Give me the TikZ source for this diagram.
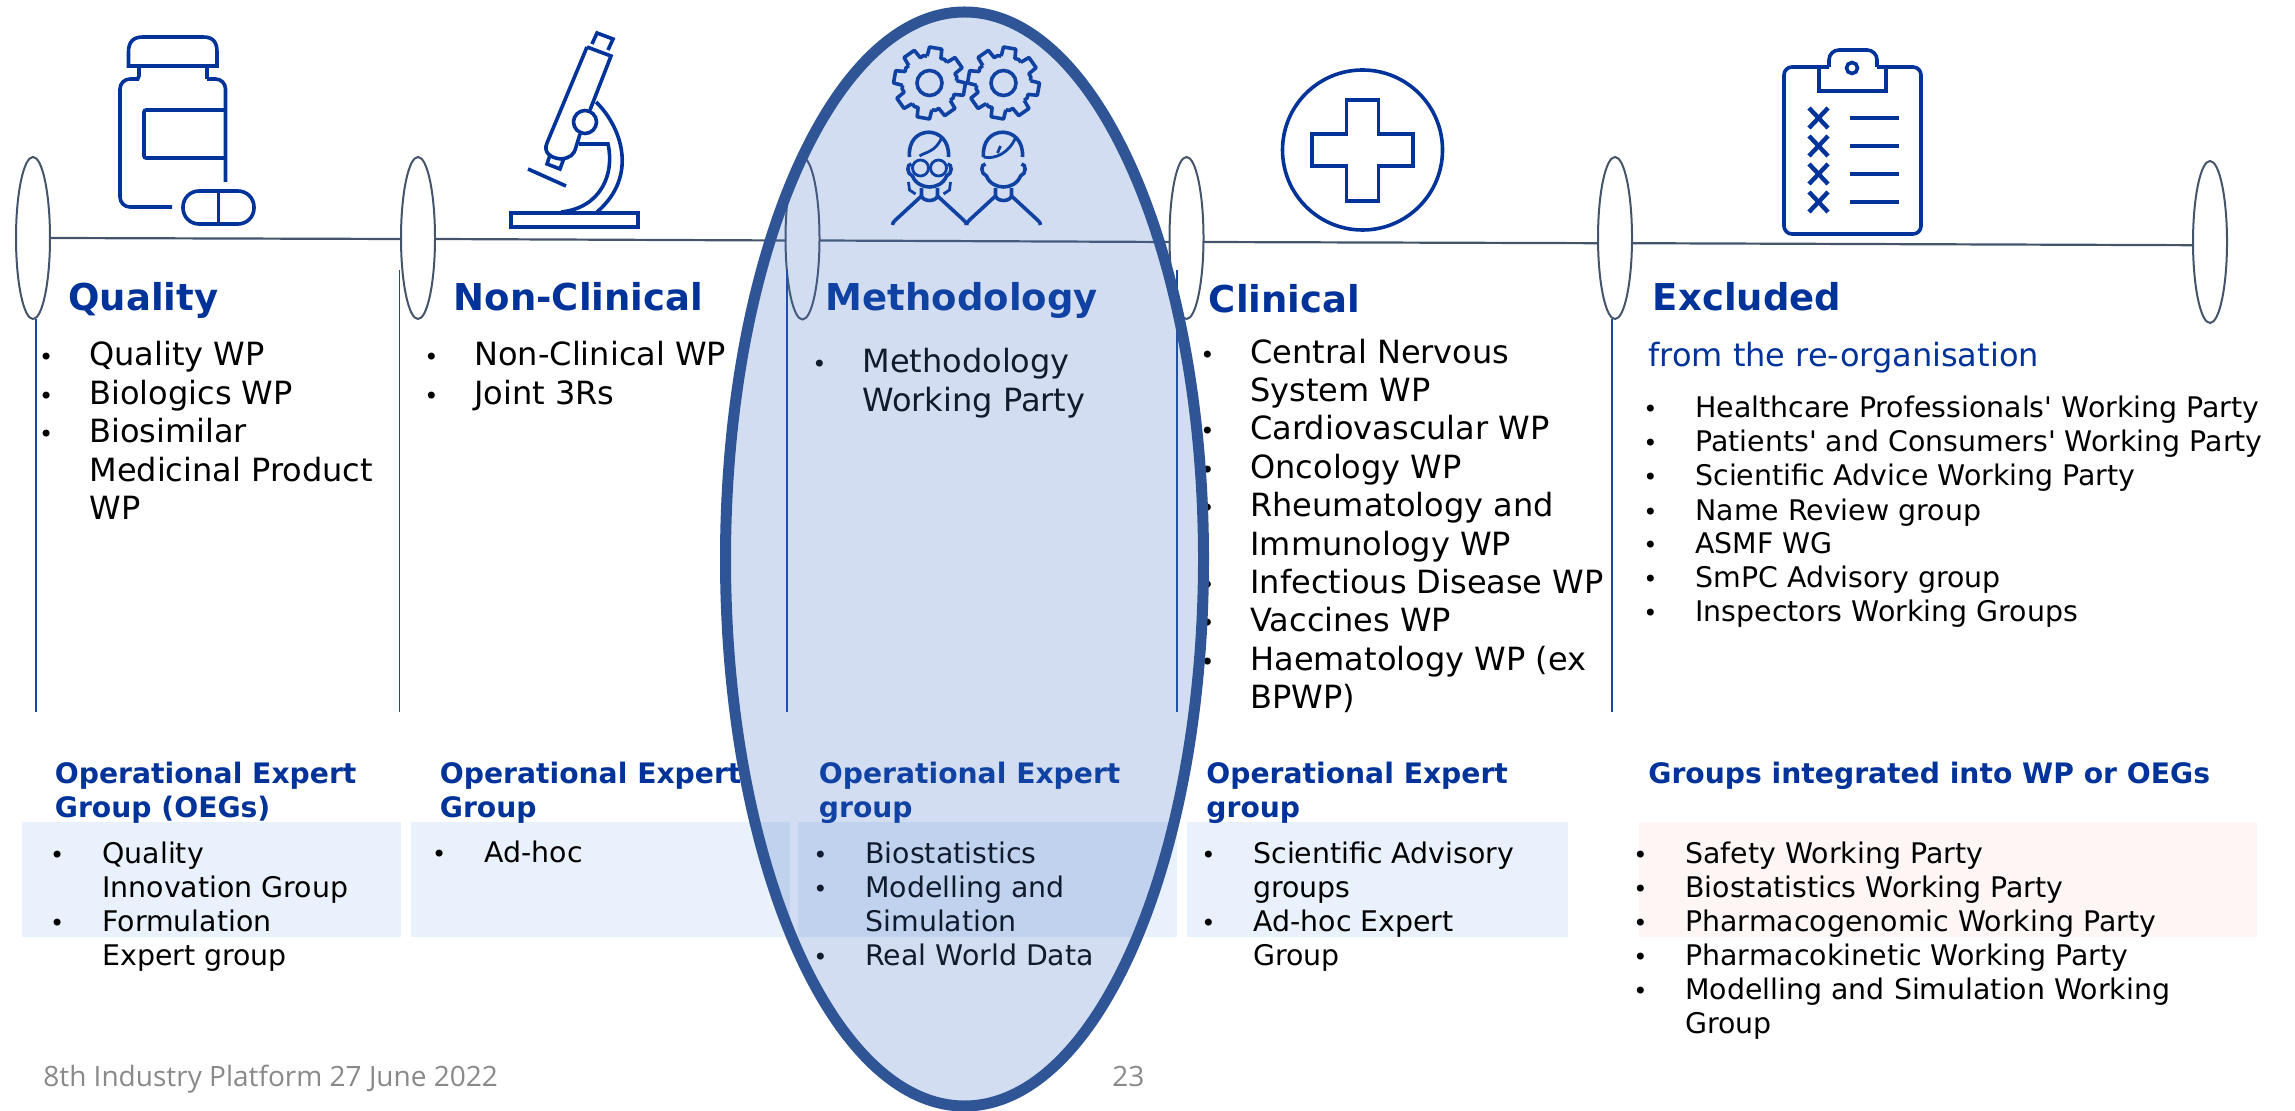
\documentclass[tikz,border=0pt]{standalone}
\usepackage{fontspec}
\setmainfont{DejaVu Sans}
\newfontfamily\footfont{Open Sans}
\usetikzlibrary{shapes.geometric}
\definecolor{emablue}{HTML}{003399}
\definecolor{slateline}{HTML}{44546A}
\definecolor{oegbox}{HTML}{E8F1FC}
\definecolor{exclbox}{HTML}{FEF5F5}
\definecolor{ringblue}{HTML}{2F5597}
\definecolor{ringfill}{HTML}{4472C4}
\definecolor{footgray}{HTML}{898989}
\tikzset{
    stopring/.style={draw=slateline, line width=1pt, shape=ellipse, inner sep=0pt, outer sep=0pt, minimum width=17pt, minimum height=81pt},
    timeline/.style={draw=slateline, line width=1.1pt},
    columnrule/.style={draw=emablue!90!white, line width=0.8pt},
    iconline/.style={draw=emablue, line width=1.8pt},
    columntitle/.style={anchor=base west, inner sep=0pt, text=emablue, font=\fontsize{18.5}{22}\selectfont\bfseries},
    bigtext/.style={anchor=base west, inner sep=0pt, align=left, font=\fontsize{16}{19.2}\selectfont\def\bulletgap{18pt}},
    smalltext/.style={anchor=base west, inner sep=0pt, align=left, font=\fontsize{14.2}{17}\selectfont\def\bulletgap{19pt}},
    oeghead/.style={anchor=base west, inner sep=0pt, align=left, text=emablue, font=\fontsize{14.1}{17}\selectfont\bfseries},
    footnote/.style={anchor=base west, inner sep=0pt, text=footgray, font=\fontsize{14}{16}\footfont}
}
\newcommand{\itm}{\llap{{\fontsize{12}{12}\selectfont\textbullet}\hspace{\bulletgap}}}
\newcommand{\gearicon}[2]{
    \begin{scope}[shift={(#1,#2)}]
        \draw[iconline] (0,0) circle[radius=12.5];
        \foreach \a in {10,55,...,325}{
            \draw[iconline, line join=round] (\a-15:27) -- (\a-10:36) -- (\a+10:36) -- (\a+15:27) -- (\a+22.5:28) -- (\a+30:27);
        }
    \end{scope}
}
\newcommand{\personicon}[3]{
    \begin{scope}[shift={(#1,#2)}]
        \draw[iconline] (-20,-3) .. controls (-23,-36) and (21,-36) .. (19,-3);
        \draw[iconline] (-18,4) .. controls (-23,4) and (-23,14) .. (-17,16) .. controls (-14,24) and (-6,27) .. (0,27) .. controls (6,27) and (14,24) .. (17,16) .. controls (23,14) and (23,4) .. (18,4);
        \draw[iconline] (-8,28) -- (-8,36) .. controls (-6,42) and (6,42) .. (8,36) -- (8,28);
        \draw[iconline] (-8,36) -- (-34,60) .. controls (-36,62) and (-37,63) .. (-37,65);
        \draw[iconline] (8,36) -- (34,60) .. controls (36,62) and (37,63) .. (37,65);
        #3
    \end{scope}
}

\begin{document}
\begin{tikzpicture}[x=0.5pt, y=-0.5pt]
    \useasboundingbox (0,0) rectangle (2295,1111);

    % boxes behind the expert groups
    \fill[oegbox] (22,822) rectangle (401,937);
    \fill[oegbox] (411,822) rectangle (790,937);
    \fill[oegbox] (798,822) rectangle (1177,937);
    \fill[oegbox] (1187,822) rectangle (1568,937);
    \fill[exclbox] (1639,822) rectangle (2257,937);

    % timeline
    \node[stopring] (stopa) at (33,238) {};
    \node[stopring] (stopb) at (418,238) {};
    \node[stopring] (stopc) at (802.5,238.5) {};
    \node[stopring] (stopd) at (1186.5,238) {};
    \node[stopring] (stope) at (1615,238) {};
    \node[stopring] (stopf) at (2210,242) {};
    \foreach \from/\to/\fs/\ts in {stopa/stopb/0/-0.5, stopb/stopc/-0.5/-1, stopc/stopd/-1/-2, stopd/stope/-2/-2.6, stope/stopf/-2.6/-1.6}{
        \draw[timeline] ([yshift=\fs pt]\from.east) -- ([yshift=\ts pt]\to.west);
    }

    % column rules
    \foreach \name/\xpos/\ystart in {rulea/36/319, ruleb/399.5/270, rulec/787/270, ruled/1177/270, rulee/1612/319}{
        \coordinate (\name-top) at (\xpos,\ystart);
        \coordinate (\name-bottom) at (\xpos,712);
        \draw[columnrule] (\name-top) -- (\name-bottom);
    }

    % bottle
    \draw[iconline] (128.5,66) -- (128.5,52) .. controls (128.5,42) and (133,37) .. (143,37) -- (203,37) .. controls (213,37) and (217,42) .. (217,52) -- (217,66) -- cycle;
    \draw[iconline, rounded corners=1.5pt] (139,66) -- (139,79) -- (130,79);
    \draw[iconline, rounded corners=5pt] (139,79) -- (120,79) -- (120,207) -- (172,207);
    \draw[iconline, rounded corners=5pt] (207,79) -- (225.5,79) -- (225.5,182);
    \draw[iconline] (207,66) -- (207,79);
    \draw[iconline, rounded corners=1pt] (225.5,110) -- (144,110) -- (144,158) -- (225.5,158);
    \draw[iconline, rounded corners=8pt] (218.5,191) -- (183,191) -- (183,224) -- (254,224) -- (254,191) -- cycle;
    \draw[iconline] (218.5,191) -- (218.5,224);

    % microscope
    \draw[iconline] (511,213) rectangle (638,227);
    \draw[iconline] (587,47) -- (547,143) .. controls (543,152) and (550,158) .. (561,159) .. controls (570,158) and (574,155) .. (576,147) -- (580,134);
    \draw[iconline] (590,110) -- (611,56) -- (587,47);
    \draw[iconline] (592,44) -- (597,33) -- (613,39) -- (608,50);
    \draw[iconline] (550,155) -- (547,164) -- (560,169) -- (564,158);
    \draw[iconline] (585,122) circle[radius=11.5];
    \draw[iconline] (596,102) .. controls (620,125) and (640,175) .. (597,212);
    \draw[iconline] (579,144) -- (608,144) .. controls (615,175) and (600,208) .. (561,212);
    \draw[iconline] (528,169) -- (566,186);

    % gears and people
    \gearicon{929.5}{83}
    \gearicon{1003.5}{83}
    \personicon{929.5}{160}{
        \draw[iconline, line width=1.4pt] (-10,-4) .. controls (-4,-8) and (6,-8) .. (12,-22);
        \draw[iconline, line width=1.4pt] (-9,8) circle[radius=8];
        \draw[iconline, line width=1.4pt] (9,8) circle[radius=8];
        \draw[iconline, line width=1.4pt] (-21,22) -- (-20,30) -- (-14,34);
        \draw[iconline, line width=1.4pt] (21,22) -- (20,30) -- (14,34);
    }
    \personicon{1003.5}{160}{
        \draw[iconline, line width=1.4pt] (-20,-3) .. controls (-8,0) and (6,-8) .. (12,-22);
        \draw[iconline, line width=1.4pt] (-3,-14) -- (-6,-7);
    }

    % cross
    \draw[iconline] (1362.5,150) circle[radius=80];
    \draw[iconline] (1346.5,100) -- (1378.5,100) -- (1378.5,134) -- (1413,134) -- (1413,166) -- (1378.5,166) -- (1378.5,201) -- (1346.5,201) -- (1346.5,166) -- (1312,166) -- (1312,134) -- (1346.5,134) -- cycle;

    % clipboard
    \draw[iconline, rounded corners=4pt] (1829,67) -- (1784,67) -- (1784,234) -- (1921,234) -- (1921,67) -- (1877,67);
    \draw[iconline] (1819,67) -- (1819,91) -- (1886,91) -- (1886,67);
    \draw[iconline, rounded corners=5pt] (1829,67) -- (1829,50) -- (1877,50) -- (1877,67);
    \draw[iconline] (1852,68) circle[radius=5.5];
    \foreach \ypos in {118,146,174,202}{
        \draw[iconline, line width=2.2pt] (1809,\ypos-10) -- (1828,\ypos+10);
        \draw[iconline, line width=2.2pt] (1828,\ypos-10) -- (1809,\ypos+10);
        \draw[iconline, line width=2.2pt] (1850,\ypos) -- (1899,\ypos);
    }

    % column titles and lists, placed by the baseline of their last line
    \node[columntitle] (qualitytitle) at (68,311) {Quality};
    \node[columntitle] (nonclintitle) at (453.5,311) {Non-Clinical};
    \node[columntitle] (methodtitle) at (825.5,311) {Methodology};
    \node[columntitle] (clinicaltitle) at (1208.5,313) {Clinical};
    \node[columntitle] (excludedtitle) at (1652.5,311) {Excluded};

    \node[bigtext] (qualitylist) at (89,519.6) {\itm Quality WP\\\itm Biologics WP\\\itm Biosimilar\\Medicinal Product\\WP};
    \node[bigtext] (nonclinlist) at (474,404.4) {\itm Non-Clinical WP\\\itm Joint 3Rs};
    \node[bigtext] (methodlist) at (862,411.4) {\itm Methodology\\Working Party};
    \node[bigtext] (clinicallist) at (1250,708.6) {\itm Central Nervous\\System WP\\\itm Cardiovascular WP\\\itm Oncology WP\\\itm Rheumatology and\\Immunology WP\\\itm Infectious Disease WP\\\itm Vaccines WP\\\itm Haematology WP (ex\\BPWP)};
    \node[bigtext, text=emablue] (excludedsub) at (1648,367) {from the re-organisation};
    \node[smalltext] (excludedlist) at (1695,622) {\itm Healthcare Professionals\textquotesingle{} Working Party\\\itm Patients\textquotesingle{} and Consumers\textquotesingle{} Working Party\\\itm Scientific Advice Working Party\\\itm Name Review group\\\itm ASMF WG\\\itm SmPC Advisory group\\\itm Inspectors Working Groups};

    % expert groups
    \node[oeghead] (qualityoeg) at (54.5,817) {Operational Expert\\Group (OEGs)};
    \node[oeghead] (nonclinoeg) at (439.5,817) {Operational Expert\\Group};
    \node[oeghead] (methodoeg) at (818.5,817) {Operational Expert\\group};
    \node[oeghead] (clinicaloeg) at (1206,817) {Operational Expert\\group};
    \node[oeghead] (excludedoeg) at (1648,783) {Groups integrated into WP or OEGs};

    \node[smalltext] (qualitygroups) at (102,965) {\itm Quality\\Innovation Group\\\itm Formulation\\Expert group};
    \node[smalltext] (nonclingroups) at (484,862) {\itm Ad-hoc};
    \node[smalltext] (methodgroups) at (865,965) {\itm Biostatistics\\\itm Modelling and\\Simulation\\\itm Real World Data};
    \node[smalltext] (clinicalgroups) at (1253,965) {\itm Scientific Advisory\\groups\\\itm Ad-hoc Expert\\Group};
    \node[smalltext] (excludedgroups) at (1685,1033) {\itm Safety Working Party\\\itm Biostatistics Working Party\\\itm Pharmacogenomic Working Party\\\itm Pharmacokinetic Working Party\\\itm Modelling and Simulation Working\\Group};

    % footer
    \node[footnote] (footerdate) at (43,1086) {8th Industry Platform 27 June 2022};
    \node[footnote] (footerpage) at (1112,1086) {23};

    % highlight ring goes over everything
    \node[shape=ellipse, draw=ringblue, line width=5.5pt, fill=ringfill, fill opacity=0.24, draw opacity=1, inner sep=0pt, outer sep=0pt, minimum width=239pt, minimum height=547pt] (highlight) at (964.5,559) {};
\end{tikzpicture}
\end{document}
